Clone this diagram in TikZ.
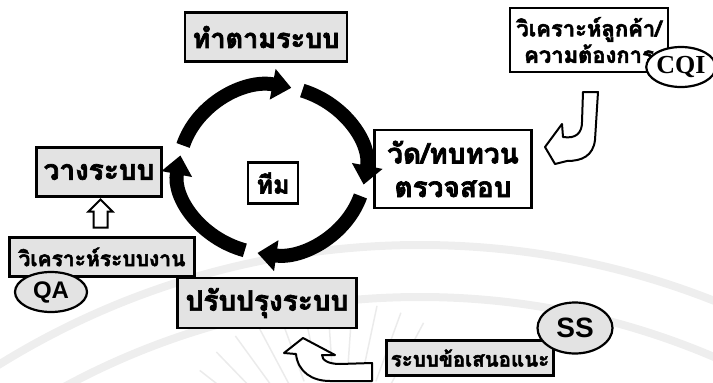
\documentclass[tikz,border=0pt]{standalone}
\usepackage{fontspec}
\newfontfamily\thaifont[Script=Thai, BoldFeatures={FakeBold=2.4}]{Loma}
\newfontfamily\serifbold{Liberation Serif}
\newfontfamily\sansbold{Liberation Sans}
\usetikzlibrary{arrows.meta, positioning, calc, shapes.geometric, shapes.arrows}

\newcommand{\thaisize}[1]{\thaifont\bfseries\fontsize{#1}{1.2\dimexpr#1pt\relax}\selectfont}

\begin{document}
\begin{tikzpicture}[
  x=1pt, y=-1pt,
  box/.style={draw=black, line width=2.5pt, fill=#1, inner sep=2pt, align=center,
    font=\thaisize{22}},
  box/.default=white,
  tag/.style={ellipse, draw=black, line width=2.2pt, fill=#1, inner sep=0pt},
  tag/.default=white,
  cyclearrow/.style={line width=14pt, -{Triangle[width=30pt,length=19pt]}},
  hollow/.style={draw=black, line width=2pt, fill=white, line join=round},
  sealband/.style={gray!13, line width=8pt},
  sealray/.style={gray!16, line width=1.5pt}
]
\useasboundingbox (0,0) rectangle (713,383);

% Watermark seal
\draw[sealband] (420,1045) circle[radius=800];
\draw[sealband] (420,1045) circle[radius=748];
\foreach \a in {-142,-134,...,-58} {
  \draw[sealray] ($(340,480)+(\a:105)$) -- ($(340,480)+(\a:178)$);
}

% Boxes
\node[box=gray!22, minimum width=162pt, minimum height=49pt, font=\thaisize{27}] (follow) at (266,37) {ทำตามระบบ};
\node[box, minimum width=158pt, minimum height=64pt, font=\thaisize{22}] (customer) at (589,40) {วิเคราะห์ลูกค้า/\\ความต้องการ};
\node[tag, minimum width=62pt, minimum height=40pt,
  font=\serifbold\bfseries\fontsize{26}{26}\selectfont] (cqi) at (681,67) {CQI};
\node[box, minimum width=157pt, minimum height=78pt, font=\thaisize{28}] (review) at (453,169) {วัด/ทบทวน\\ตรวจสอบ};
\node[box, minimum width=50pt, minimum height=41pt, font=\thaisize{25}] (team) at (273,183) {ทีม};
\node[box=gray!22, minimum width=125pt, minimum height=49pt, font=\thaisize{28}] (plan) at (99,172) {วางระบบ};
\node[box=gray!22, minimum width=185pt, minimum height=39pt, font=\thaisize{21}] (analyze) at (102,257) {วิเคราะห์ระบบงาน};
\node[tag=gray!22, minimum width=72pt, minimum height=40pt,
  font=\sansbold\bfseries\fontsize{24}{24}\selectfont] (qa) at (51,292) {QA};
\node[box=gray!22, minimum width=179pt, minimum height=50pt, font=\thaisize{28}] (improve) at (267,303) {ปรับปรุงระบบ};
\node[box=gray!22, minimum width=167pt, minimum height=35pt, font=\thaisize{20.5}] (suggest) at (470,358) {ระบบข้อเสนอแนะ};
\node[tag=gray!22, minimum width=75pt, minimum height=51pt,
  font=\sansbold\bfseries\fontsize{28}{28}\selectfont] (ss) at (575,328) {SS};

% Cycle around the team
\coordinate (hub) at (272,170);
\draw[cyclearrow] ($(hub)+(-163:93 and 84)$) arc[start angle=-163, end angle=-78, x radius=93, y radius=84];
\draw[cyclearrow] ($(hub)+(-71:93 and 84)$) arc[start angle=-71, end angle=10, x radius=93, y radius=84];
\draw[cyclearrow] ($(hub)+(18:93 and 84)$) arc[start angle=18, end angle=99, x radius=93, y radius=84];
\draw[cyclearrow] ($(hub)+(107:93 and 84)$) arc[start angle=107, end angle=190, x radius=93, y radius=84];

% Hollow arrows
\node[single arrow, draw=black, line width=2pt, fill=white, rotate=90, inner sep=6pt,
  minimum height=28pt, single arrow head extend=5pt] (uparrow)
  at ($(analyze.north)!0.5!(plan.south)$) {};
\draw[hollow] (583,92) -- (598,92) -- (595,140)
  .. controls (593,156) and (582,161) .. (567,161) -- (555,164) -- (545,147)
  -- (562,124) -- (563,137) .. controls (576,139) and (582,133) .. (582,122) -- cycle;
\draw[hollow] (372,363) -- (340,364) .. controls (328,364) and (322,360) .. (322,355)
  -- (335,355) -- (303,338) -- (284,353) -- (296,354)
  .. controls (298,372) and (312,381) .. (330,381) -- (372,381) -- cycle;

\end{tikzpicture}
\end{document}
